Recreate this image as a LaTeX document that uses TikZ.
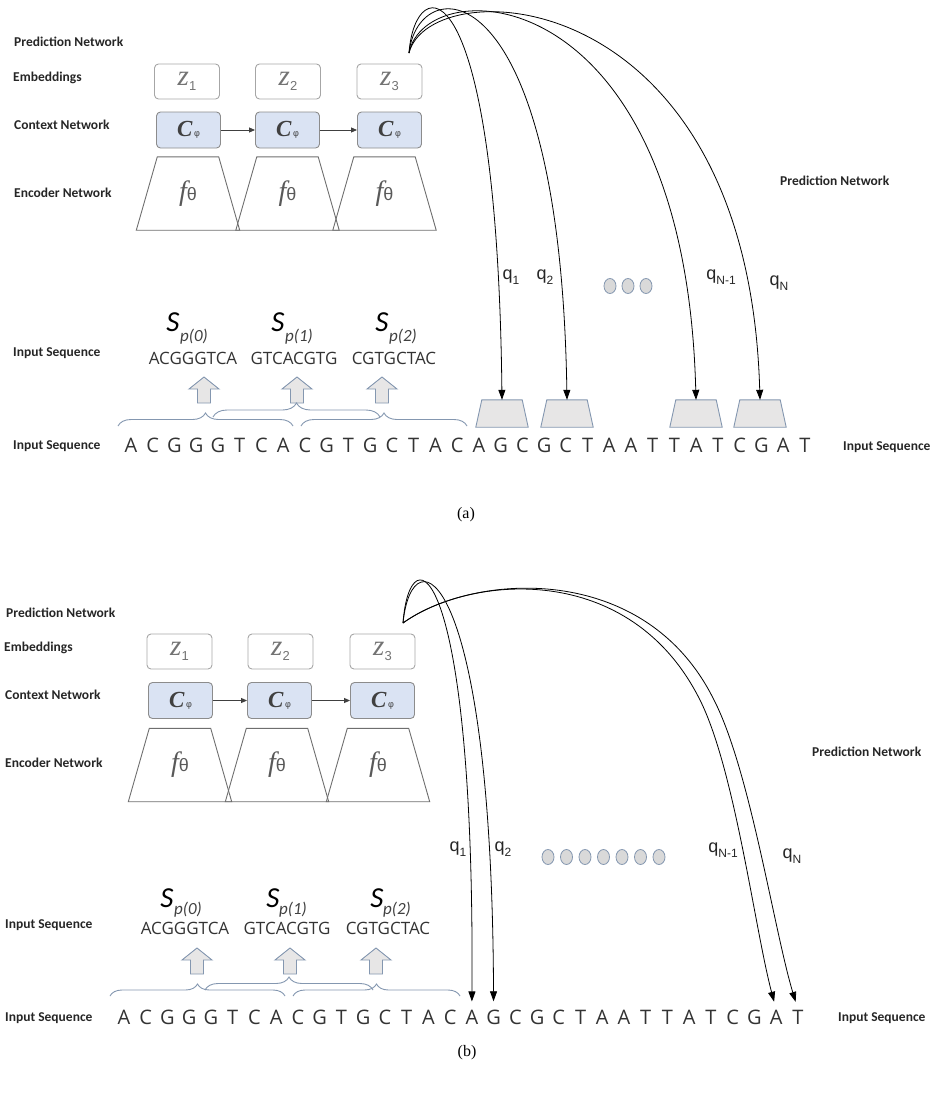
\documentclass[tikz,border=0pt]{standalone}
\usepackage{fontspec}
\setmainfont{Liberation Serif}
\newfontfamily\labf{Carlito}
\newfontfamily\seqf{Open Sans}
\newfontfamily\arf{Liberation Sans}
\usetikzlibrary{arrows.meta,shapes.geometric,decorations.pathreplacing}
\definecolor{lblc}{HTML}{262626}
\definecolor{zbord}{HTML}{A6A6A6}
\definecolor{cfill}{HTML}{DAE3F3}
\definecolor{cbord}{HTML}{8C8C8C}
\definecolor{tbord}{HTML}{6E6E6E}
\definecolor{gfill}{HTML}{E7E6E6}
\definecolor{bgray}{HTML}{8497B0}
\definecolor{dotfill}{HTML}{D9D9D9}
\definecolor{zt}{HTML}{737373}
\definecolor{ct}{HTML}{404040}
\definecolor{ft}{HTML}{595959}
\definecolor{seqc}{HTML}{333333}
\newcommand{\zlab}[1]{{\itshape\fontsize{29}{29}\selectfont z}{\arf\fontsize{13}{13}\selectfont\raisebox{-5pt}{#1}}}
\newcommand{\clab}{{\bfseries\itshape\fontsize{23}{23}\selectfont C}\hspace{1.5pt}{\arf\fontsize{9}{9}\selectfont φ}}
\newcommand{\flab}{{\itshape\fontsize{28}{28}\selectfont f}{\arf\fontsize{18}{18}\selectfont θ}}
\newcommand{\qlab}[2]{{\arf\fontsize{18}{18}\selectfont q\raisebox{-5pt}{\fontsize{12}{12}\selectfont #2}}}
\begin{document}
\begin{tikzpicture}[x=1pt,y=-1pt,
  lbl/.style={font=\labf\bfseries\fontsize{13.5}{14}\selectfont, text=lblc, anchor=west, inner sep=0pt},
  zbox/.style={draw=zbord, rounded corners=4pt, minimum width=65pt, minimum height=35pt, line width=0.9pt, text=zt, inner sep=0pt},
  cbox/.style={draw=cbord, fill=cfill, rounded corners=4pt, minimum width=64pt, minimum height=36pt, line width=0.9pt, text=ct, inner sep=0pt},
  encbox/.style={minimum width=103pt, minimum height=73pt, inner sep=0pt, text=ft},
  trapline/.style={draw=tbord, line width=0.9pt},
  predbox/.style={minimum width=52pt, minimum height=27pt, inner sep=0pt},
  predline/.style={draw=bgray, fill=gfill, line width=0.9pt},
  carr/.style={draw=ct, line width=0.9pt, -{Triangle[length=6pt,width=5pt]}},
  parr/.style={draw=black, line width=0.8pt, -{Triangle[length=10pt,width=7pt]}},
  seq/.style={font=\seqf\fontsize{20}{20}\selectfont, text=seqc, inner sep=0pt, anchor=base},
  chunk/.style={font=\seqf\fontsize{17}{17}\selectfont, text=seqc, inner sep=0pt},
  sbig/.style={font=\labf\itshape\fontsize{29}{29}\selectfont, text=black, inner sep=0pt},
  ssub/.style={font=\labf\itshape\fontsize{17}{17}\selectfont, text=ct, inner sep=0pt},
  qtxt/.style={text=lblc, inner sep=0pt},
  dotc/.style={ellipse, draw=bgray, fill=dotfill, minimum width=12pt, minimum height=15pt, inner sep=0pt, line width=0.8pt},
  brc/.style={draw=bgray, line width=0.9pt, decorate, decoration={brace, amplitude=#1}},
  captxt/.style={font=\fontsize{16}{16}\selectfont, inner sep=0pt},
  blockup/.pic={\draw[predline] (0,0) -- (15,12) -- (6.5,12) -- (6.5,26) -- (-6.5,26) -- (-6.5,12) -- (-15,12) -- cycle;}
]
\useasboundingbox (0,0) rectangle (934,1093);

% ===================== (a) =====================
\node[lbl] (pa) at (14,42) {Prediction Network};
\node[lbl] (ea) at (13,78) {Embeddings};
\node[lbl] (ca) at (14,125) {Context Network};
\node[lbl] (na) at (14,193) {Encoder Network};
\node[lbl] (ia1) at (13,353) {Input Sequence};
\node[lbl] (ia2) at (13,446) {Input Sequence};
\node[lbl] (pra) at (780,181) {Prediction Network};
\node[lbl] (ira) at (843,447) {Input Sequence};

\node[zbox] (za1) at (187,81.5) {\zlab{1}};
\node[zbox] (za2) at (288,81.5) {\zlab{2}};
\node[zbox] (za3) at (389.5,81.5) {\zlab{3}};
\node[cbox] (cba1) at (188.5,130) {\clab};
\node[cbox] (cba2) at (287.5,130) {\clab};
\node[cbox] (cba3) at (389.5,130) {\clab};
\draw[carr] (cba1) -- (cba2);
\draw[carr] (cba2) -- (cba3);

\node[encbox] (fa1) at (188,193.5) {\flab};
\node[encbox] (fa2) at (287.5,193.5) {\flab};
\node[encbox] (fa3) at (384.5,193.5) {\flab};

\node[sbig] (sa0) at (173,322) {S};
\node[ssub] (sua0) at (194,337) {p(0)};
\node[sbig] (sa1) at (278,322) {S};
\node[ssub] (sua1) at (299,337) {p(1)};
\node[sbig] (sa2) at (382,322) {S};
\node[ssub] (sua2) at (403,337) {p(2)};
\node[chunk] (ka0) at (193,358) {ACGGGTCA};
\node[chunk] (ka1) at (294,358) {GTCACGTG};
\node[chunk] (ka2) at (394,358) {CGTGCTAC};
\pic at (204,377) {blockup};
\pic at (297,377) {blockup};
\pic at (382,377) {blockup};
\draw[brc=13pt] (118,426) -- (293,426);
\draw[brc=14pt] (213,417) -- (380,417);
\draw[brc=13pt] (301,426) -- (467,426);

\foreach \l [count=\i from 0] in {A,C,G,G,G,T,C,A,C,G,T,G,C,T,A,C,A,G,C,G,C,T,A,A,T,T,A,T,C,G,A,T} {
  \node[seq] (a\i) at ({131+21.74*\i},452) {\l};
  \node[seq] (b\i) at ({124+21.74*\i},1024) {\l};
}

\node[predbox] (qa1) at (502,413.5) {};
\node[predbox] (qa2) at (567,413.5) {};
\node[predbox] (qa3) at (696,413.5) {};
\node[predbox] (qa4) at (760,413.5) {};
\foreach \n in {qa1,qa2,qa3,qa4}
  \path[predline] (\n.south west) -- ([xshift=6pt]\n.north west) -- ([xshift=-6pt]\n.north east) -- (\n.south east) -- cycle;

\coordinate (srca) at (409,53);
\draw[parr] (srca) .. controls (415,-30) and (497,-40) .. (qa1.north);
\draw[parr] (srca) .. controls (418,-30) and (560,-35) .. (qa2.north);
\draw[parr] (srca) .. controls (425,-30) and (685,-25) .. (qa3.north);
\draw[parr] (srca) .. controls (430,-30) and (748,-20) .. (qa4.north);

\node[qtxt] (la1) at (511,277) {\qlab{}{1}};
\node[qtxt] (la2) at (545,277) {\qlab{}{2}};
\node[qtxt] (la3) at (721,277) {\qlab{}{N-1}};
\node[qtxt] (la4) at (779,283) {\qlab{}{N}};
\node[dotc] (da1) at (610,286) {};
\node[dotc] (da2) at (628,286) {};
\node[dotc] (da3) at (646,286) {};

\node[captxt] (capa) at (466,515) {(a)};

% ===================== (b) =====================
\node[lbl] (pb) at (6,613) {Prediction Network};
\node[lbl] (eb) at (4,648) {Embeddings};
\node[lbl] (cb) at (5,695) {Context Network};
\node[lbl] (nb) at (5,763) {Encoder Network};
\node[lbl] (ib1) at (5,925) {Input Sequence};
\node[lbl] (ib2) at (5,1018) {Input Sequence};
\node[lbl] (prb) at (812,752) {Prediction Network};
\node[lbl] (irb) at (838,1018) {Input Sequence};

\node[zbox] (zb1) at (179.5,651.5) {\zlab{1}};
\node[zbox] (zb2) at (280.5,651.5) {\zlab{2}};
\node[zbox] (zb3) at (382.5,651.5) {\zlab{3}};
\node[cbox] (cbb1) at (180.5,700.5) {\clab};
\node[cbox] (cbb2) at (279.5,700.5) {\clab};
\node[cbox] (cbb3) at (382.5,700.5) {\clab};
\draw[carr] (cbb1) -- (cbb2);
\draw[carr] (cbb2) -- (cbb3);

\node[encbox] (fb1) at (180,765) {\flab};
\node[encbox] (fb2) at (277,765) {\flab};
\node[encbox] (fb3) at (378,765) {\flab};
\foreach \n in {fa1,fa2,fa3,fb1,fb2,fb3}
  \path[trapline] (\n.south west) -- ([xshift=21pt]\n.north west) -- ([xshift=-21pt]\n.north east) -- (\n.south east) -- cycle;

\node[sbig] (sb0) at (167,898) {S};
\node[ssub] (sub0) at (188,910) {p(0)};
\node[sbig] (sb1) at (273,898) {S};
\node[ssub] (sub1) at (293,910) {p(1)};
\node[sbig] (sb2) at (377,898) {S};
\node[ssub] (sub2) at (397,910) {p(2)};
\node[chunk] (kb0) at (185,928) {ACGGGTCA};
\node[chunk] (kb1) at (287,928) {GTCACGTG};
\node[chunk] (kb2) at (388,928) {CGTGCTAC};
\pic at (197,948) {blockup};
\pic at (290,948) {blockup};
\pic at (376,948) {blockup};
\draw[brc=12pt] (110,996) -- (285,996);
\draw[brc=13pt] (205,990) -- (373,990);
\draw[brc=12pt] (293,996) -- (460,996);

\coordinate (srcb) at (403,623);
\draw[parr, shorten >=8pt] (srcb) .. controls (410,530) and (475,560) .. (b16.north);
\draw[parr, shorten >=8pt] (srcb) .. controls (412,532) and (492,565) .. (b17.north);
\draw[parr, shorten >=8pt] (srcb) .. controls (470,575) and (630,560) .. (700,700) .. controls (735,770) and (755,930) .. (b30.north);
\draw[parr, shorten >=8pt] (srcb) .. controls (472,573) and (645,560) .. (714,700) .. controls (750,770) and (774,930) .. (b31.north);

\node[qtxt] (lb1) at (458,849) {\qlab{}{1}};
\node[qtxt] (lb2) at (503,849) {\qlab{}{2}};
\node[qtxt] (lb3) at (723,850) {\qlab{}{N-1}};
\node[qtxt] (lb4) at (792,856) {\qlab{}{N}};
\foreach \k in {0,...,6}
  \node[dotc] (db\k) at ({548+18.5*\k},857) {};

\node[captxt] (capb) at (467,1053) {(b)};
\end{tikzpicture}
\end{document}
